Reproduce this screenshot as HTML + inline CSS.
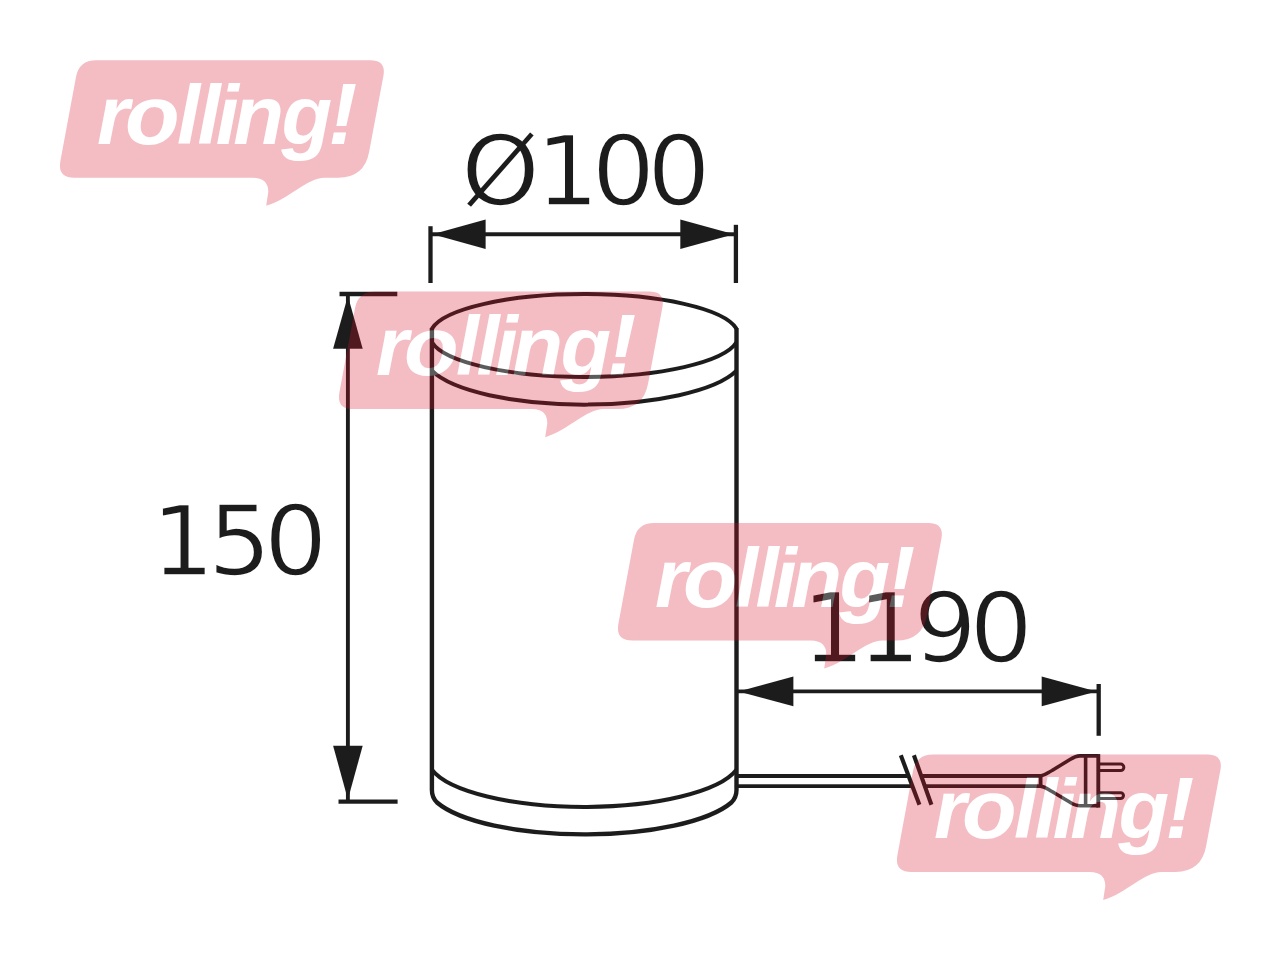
<!DOCTYPE html>
<html lang="en">
<head>
<meta charset="utf-8">
<title>rolling! – dimension drawing Ø100 × 150, cable 1190</title>
<style>
  html, body { margin: 0; padding: 0; background: #ffffff; }
  body { width: 1280px; height: 960px; overflow: hidden; }
  svg { display: block; }
  .dim   { font-family: "DejaVu Sans", "Liberation Sans", sans-serif; font-size: 96.5px; fill: #1f1f1f; stroke: #ffffff; stroke-width: 1.7px; }
  .logo  { font-family: "Liberation Sans", "DejaVu Sans", sans-serif; font-weight: bold; font-style: italic; font-size: 83px; fill: #ffffff; }
  .ln    { stroke: #1f1f1f; fill: none; }
  .ah    { fill: #1f1f1f; stroke: none; }
  .bub   { fill: #d41329; }
</style>
</head>
<body>
<svg width="1280" height="960" viewBox="0 0 1280 960">
  <defs><filter id="soft" x="0" y="0" width="1280" height="960" filterUnits="userSpaceOnUse"><feGaussianBlur stdDeviation="0.75"/></filter></defs>
  <rect x="0" y="0" width="1280" height="960" fill="#ffffff"/>

  <!-- ================= technical drawing ================= -->
  <g id="drawing" filter="url(#soft)">
    <!-- dimension numbers -->
    <text class="dim" transform="scale(1.04 1)" x="443.27 514.90 568.75 622.12" y="204.6">Ø100</text>
    <text class="dim" transform="scale(1.04 1)" x="145.19 199.76 253.61" y="574.8">150</text>
    <text class="dim" transform="scale(1.04 1)" x="770.67 824.28 878.13 931.97" y="662">1190</text>

    <!-- cylinder body -->
    <g class="ln" stroke-width="4" stroke-linecap="butt" stroke-linejoin="round">
      <path d="M431.9 328.7 A154.4 41.4 0 0 1 736.5 328.7"/>
      <path d="M431.9 342.3 A154.4 41.4 0 0 0 736.5 342.3"/>
      <path d="M431.9 370.7 A159 47.6 0 0 0 736.5 370.7"/>
      <path d="M431.9 769.8 A156.6 48.4 0 0 0 736.5 769.8"/>
      <path d="M431.9 328 V790 Q431.9 797.3 437 802.5 A156.6 48.4 0 0 0 731.4 802.5 Q736.5 797.3 736.5 790 V328" stroke-width="4.4"/>
    </g>

    <!-- Ø100 dimension -->
    <g class="ln" stroke-width="3.9">
      <path d="M431 234.2 H735.5"/>
      <path d="M430.5 226.2 V283" stroke-width="4.3"/>
      <path d="M735.9 224.8 V283" stroke-width="4.3"/>
    </g>
    <path class="ah" d="M432.5 234.2 L485.6 219.4 V249 Z"/>
    <path class="ah" d="M734 234.2 L680.3 219.4 V249 Z"/>

    <!-- 150 dimension -->
    <g class="ln" stroke-width="3.9">
      <path d="M347.9 294.5 V801"/>
      <path d="M339.5 294 H397.3" stroke-width="4.3"/>
      <path d="M338.5 801.7 H397.6" stroke-width="4.3"/>
    </g>
    <path class="ah" d="M347.9 296 L333.1 348.8 H362.7 Z"/>
    <path class="ah" d="M347.9 799.5 L333.1 745.8 H362.7 Z"/>

    <!-- 1190 dimension -->
    <g class="ln" stroke-width="3.9">
      <path d="M737 691.4 H1098.5"/>
      <path d="M1098.7 684 V735.8" stroke-width="4.3"/>
    </g>
    <path class="ah" d="M738.5 691.4 L793.4 676.6 V706.2 Z"/>
    <path class="ah" d="M1096.6 691.4 L1041.7 676.6 V706.2 Z"/>

    <!-- cable -->
    <g class="ln" stroke-width="3.8">
      <path d="M738 776 H909"/>
      <path d="M738 786.1 H912"/>
      <path d="M922.3 776 H1040.6 V786.1 H926"/>
      <path d="M900.8 755.2 L919.4 804.8" stroke-width="4.1"/>
      <path d="M913.9 755.2 L931.4 804.8" stroke-width="4.1"/>
    </g>

    <!-- plug -->
    <g class="ln" stroke-width="3.6" stroke-linejoin="round">
      <path d="M1040.6 776 C1046 775 1048 772.5 1052 770.5 L1070 759.5 C1074 757 1076 755.9 1080 755.9 H1098.3"/>
      <path d="M1040.6 786.1 C1046 787 1048 789.5 1052 791.5 L1070 802.3 C1074 804.8 1076 805.8 1080 805.8 H1098.3"/>
      <path d="M1098.3 754.1 V807.6" stroke-width="3.9"/>
      <path d="M1085.6 755.9 V805.8"/>
      <path d="M1099 764.1 H1120.6 A3.25 3.25 0 0 1 1120.6 770.6 H1099" stroke-width="3"/>
      <path d="M1099 792.7 H1120.6 A2.9 2.9 0 0 1 1120.6 798.5 H1099" stroke-width="3"/>
    </g>
  </g>

  <!-- ================= watermarks ================= -->
  <g id="wm1" opacity="0.28" transform="translate(0.8 0)">
    <path class="bub" d="M75.2 76.9 Q78.3 60.2 95.3 60.2 H369.5 Q385.5 60.2 382.6 75.9 L368.3 152.1 Q363.6 177.7 337.6 177.7 H323.7 C306 178 290 198 265.4 205.8 L267.5 192 Q267.5 177.7 252 177.7 H73.5 Q56.5 177.7 59.6 161 Z"/>
    <text class="logo" y="143.75"><tspan x="96.1">r</tspan><tspan x="124.3" textLength="54.6" lengthAdjust="spacingAndGlyphs">o</tspan><tspan x="176.1 196.75 214.9 232.4 280.75">lling</tspan><tspan x="327.4" font-size="87.1">!</tspan></text>
  </g>
  <g id="wm2" opacity="0.28" transform="translate(279.8 231.4)">
    <path class="bub" d="M75.2 76.9 Q78.3 60.2 95.3 60.2 H369.5 Q385.5 60.2 382.6 75.9 L368.3 152.1 Q363.6 177.7 337.6 177.7 H323.7 C306 178 290 198 265.4 205.8 L267.5 192 Q267.5 177.7 252 177.7 H73.5 Q56.5 177.7 59.6 161 Z"/>
    <text class="logo" y="143.75"><tspan x="96.1">r</tspan><tspan x="124.3" textLength="54.6" lengthAdjust="spacingAndGlyphs">o</tspan><tspan x="176.1 196.75 214.9 232.4 280.75">lling</tspan><tspan x="327.4" font-size="87.1">!</tspan></text>
  </g>
  <g id="wm3" opacity="0.28" transform="translate(558.8 462.8)">
    <path class="bub" d="M75.2 76.9 Q78.3 60.2 95.3 60.2 H369.5 Q385.5 60.2 382.6 75.9 L368.3 152.1 Q363.6 177.7 337.6 177.7 H323.7 C306 178 290 198 265.4 205.8 L267.5 192 Q267.5 177.7 252 177.7 H73.5 Q56.5 177.7 59.6 161 Z"/>
    <text class="logo" y="143.75"><tspan x="96.1">r</tspan><tspan x="124.3" textLength="54.6" lengthAdjust="spacingAndGlyphs">o</tspan><tspan x="176.1 196.75 214.9 232.4 280.75">lling</tspan><tspan x="327.4" font-size="87.1">!</tspan></text>
  </g>
  <g id="wm4" opacity="0.28" transform="translate(837.8 694.2)">
    <path class="bub" d="M75.2 76.9 Q78.3 60.2 95.3 60.2 H369.5 Q385.5 60.2 382.6 75.9 L368.3 152.1 Q363.6 177.7 337.6 177.7 H323.7 C306 178 290 198 265.4 205.8 L267.5 192 Q267.5 177.7 252 177.7 H73.5 Q56.5 177.7 59.6 161 Z"/>
    <text class="logo" y="143.75"><tspan x="96.1">r</tspan><tspan x="124.3" textLength="54.6" lengthAdjust="spacingAndGlyphs">o</tspan><tspan x="176.1 196.75 214.9 232.4 280.75">lling</tspan><tspan x="327.4" font-size="87.1">!</tspan></text>
  </g>
</svg>
</body>
</html>
